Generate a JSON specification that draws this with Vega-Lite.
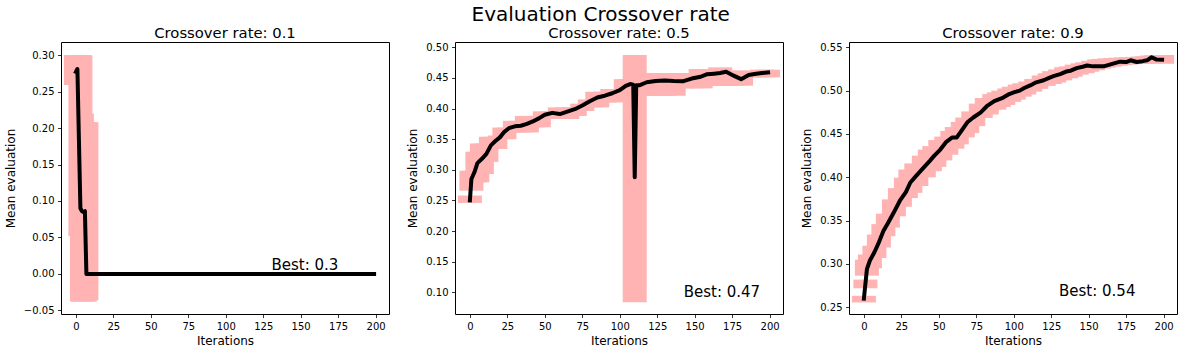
{
  "$schema": "https://vega.github.io/schema/vega-lite/v6.json",
  "padding": {"left": 3, "top": 4, "right": 5, "bottom": 5},
  "background": "white",
  "title": {"text": "Evaluation Crossover rate", "fontSize": 20, "fontWeight": "normal", "anchor": "middle", "dx": 10, "offset": 1, "color": "black"},
  "datasets": {
    "runs": [
      {"p":1,"i":0,"m":0.277,"lo":0.259,"hi":0.300},
      {"p":1,"i":1,"m":0.281,"lo":0.259,"hi":0.300},
      {"p":1,"i":2,"m":0.185,"lo":0.259,"hi":0.300},
      {"p":1,"i":3,"m":0.090,"lo":0.052,"hi":0.300},
      {"p":1,"i":4,"m":0.086,"lo":-0.038,"hi":0.220},
      {"p":1,"i":5,"m":0.085,"lo":-0.038,"hi":0.208},
      {"p":1,"i":6,"m":0.086,"lo":-0.038,"hi":0.208},
      {"p":1,"i":7,"m":0.0,"lo":-0.036,"hi":0.208},
      {"p":1,"i":8,"m":0.0},
      {"p":1,"i":199,"m":0.0},

      {"p":2,"i":0,"m":0.250,"lo":0.246,"hi":0.258},
      {"p":2,"i":1,"m":0.285,"lo":0.266,"hi":0.2985},
      {"p":2,"i":3,"m":0.296,"lo":0.2796,"hi":0.2985},
      {"p":2,"i":5,"m":0.311,"lo":0.2796,"hi":0.3296},
      {"p":2,"i":8,"m":0.318,"lo":0.2931,"hi":0.343},
      {"p":2,"i":11,"m":0.326,"lo":0.313,"hi":0.343},
      {"p":2,"i":14,"m":0.340,"lo":0.334,"hi":0.354},
      {"p":2,"i":17,"m":0.347,"lo":0.334,"hi":0.354},
      {"p":2,"i":20,"m":0.353,"lo":0.350,"hi":0.356},
      {"p":2,"i":23,"m":0.362,"lo":0.350,"hi":0.369},
      {"p":2,"i":26,"m":0.368,"lo":0.361,"hi":0.369},
      {"p":2,"i":30,"m":0.371,"lo":0.361,"hi":0.380},
      {"p":2,"i":34,"m":0.372,"lo":0.361,"hi":0.380},
      {"p":2,"i":38,"m":0.375,"lo":0.361,"hi":0.388},
      {"p":2,"i":42,"m":0.379,"lo":0.3694,"hi":0.388},
      {"p":2,"i":46,"m":0.384,"lo":0.3694,"hi":0.388},
      {"p":2,"i":50,"m":0.390,"lo":0.383,"hi":0.3955},
      {"p":2,"i":55,"m":0.393,"lo":0.383,"hi":0.3955},
      {"p":2,"i":60,"m":0.391,"lo":0.383,"hi":0.402},
      {"p":2,"i":65,"m":0.395,"lo":0.383,"hi":0.402},
      {"p":2,"i":70,"m":0.399,"lo":0.388,"hi":0.402},
      {"p":2,"i":75,"m":0.405,"lo":0.396,"hi":0.408},
      {"p":2,"i":80,"m":0.412,"lo":0.402,"hi":0.415},
      {"p":2,"i":85,"m":0.418,"lo":0.402,"hi":0.4275},
      {"p":2,"i":90,"m":0.421,"lo":0.410,"hi":0.4275},
      {"p":2,"i":95,"m":0.425,"lo":0.410,"hi":0.432},
      {"p":2,"i":100,"m":0.430,"lo":0.421,"hi":0.432},
      {"p":2,"i":104,"m":0.437,"lo":0.421,"hi":0.448},
      {"p":2,"i":107,"m":0.440,"lo":0.421,"hi":0.448},
      {"p":2,"i":109,"m":0.439,"lo":0.421,"hi":0.448},
      {"p":2,"i":110,"m":0.288,"lo":0.0837,"hi":0.4874},
      {"p":2,"i":111,"m":0.438,"lo":0.421,"hi":0.458},
      {"p":2,"i":113,"m":0.438,"lo":0.421,"hi":0.458},
      {"p":2,"i":118,"m":0.443,"lo":0.421,"hi":0.458},
      {"p":2,"i":124,"m":0.445,"lo":0.421,"hi":0.458},
      {"p":2,"i":130,"m":0.446,"lo":0.421,"hi":0.458},
      {"p":2,"i":136,"m":0.445,"lo":0.421,"hi":0.458},
      {"p":2,"i":142,"m":0.4445,"lo":0.433,"hi":0.458},
      {"p":2,"i":148,"m":0.449,"lo":0.433,"hi":0.458},
      {"p":2,"i":154,"m":0.452,"lo":0.433,"hi":0.4646},
      {"p":2,"i":158,"m":0.456,"lo":0.437,"hi":0.4646},
      {"p":2,"i":163,"m":0.457,"lo":0.437,"hi":0.4646},
      {"p":2,"i":167,"m":0.458,"lo":0.4373,"hi":0.4673},
      {"p":2,"i":171,"m":0.460,"lo":0.4373,"hi":0.4618},
      {"p":2,"i":176,"m":0.4537,"lo":0.4373,"hi":0.4618},
      {"p":2,"i":181,"m":0.448,"lo":0.4373,"hi":0.4618},
      {"p":2,"i":186,"m":0.4548,"lo":0.451,"hi":0.4618},
      {"p":2,"i":191,"m":0.457,"lo":0.451,"hi":0.4618},
      {"p":2,"i":195,"m":0.458,"lo":0.451,"hi":0.4635},
      {"p":2,"i":199,"m":0.459,"lo":0.451,"hi":0.4635},

      {"p":3,"i":0,"m":0.260,"lo":0.2556,"hi":0.2633},
      {"p":3,"i":1,"m":0.277,"lo":0.272,"hi":0.282},
      {"p":3,"i":2,"m":0.294,"lo":0.2865,"hi":0.305},
      {"p":3,"i":4,"m":0.304,"lo":0.295,"hi":0.311},
      {"p":3,"i":7,"m":0.3135,"lo":0.307,"hi":0.321},
      {"p":3,"i":10,"m":0.325,"lo":0.319,"hi":0.334},
      {"p":3,"i":13,"m":0.338,"lo":0.332,"hi":0.346},
      {"p":3,"i":16,"m":0.347,"lo":0.342,"hi":0.358},
      {"p":3,"i":20,"m":0.3596,"lo":0.355,"hi":0.3745},
      {"p":3,"i":24,"m":0.373,"lo":0.366,"hi":0.3875},
      {"p":3,"i":28,"m":0.383,"lo":0.376,"hi":0.3995},
      {"p":3,"i":31,"m":0.394,"lo":0.382,"hi":0.409},
      {"p":3,"i":35,"m":0.402,"lo":0.390,"hi":0.416},
      {"p":3,"i":40,"m":0.4115,"lo":0.400,"hi":0.425},
      {"p":3,"i":44,"m":0.419,"lo":0.407,"hi":0.432},
      {"p":3,"i":47,"m":0.425,"lo":0.412,"hi":0.436},
      {"p":3,"i":51,"m":0.432,"lo":0.4195,"hi":0.443},
      {"p":3,"i":55,"m":0.441,"lo":0.426,"hi":0.447},
      {"p":3,"i":59,"m":0.446,"lo":0.433,"hi":0.4535},
      {"p":3,"i":62,"m":0.446,"lo":0.438,"hi":0.458},
      {"p":3,"i":66,"m":0.456,"lo":0.446,"hi":0.464},
      {"p":3,"i":69,"m":0.4635,"lo":0.451,"hi":0.469},
      {"p":3,"i":73,"m":0.469,"lo":0.459,"hi":0.476},
      {"p":3,"i":78,"m":0.475,"lo":0.4685,"hi":0.485},
      {"p":3,"i":82,"m":0.482,"lo":0.4725,"hi":0.4915},
      {"p":3,"i":87,"m":0.488,"lo":0.478,"hi":0.496},
      {"p":3,"i":90,"m":0.490,"lo":0.481,"hi":0.498},
      {"p":3,"i":93,"m":0.492,"lo":0.4835,"hi":0.500},
      {"p":3,"i":97,"m":0.496,"lo":0.487,"hi":0.5025},
      {"p":3,"i":100,"m":0.498,"lo":0.4896,"hi":0.5045},
      {"p":3,"i":104,"m":0.500,"lo":0.493,"hi":0.507},
      {"p":3,"i":107,"m":0.503,"lo":0.4955,"hi":0.5085},
      {"p":3,"i":111,"m":0.506,"lo":0.4988,"hi":0.5105},
      {"p":3,"i":115,"m":0.5096,"lo":0.502,"hi":0.5135},
      {"p":3,"i":120,"m":0.512,"lo":0.5055,"hi":0.5175},
      {"p":3,"i":124,"m":0.515,"lo":0.5076,"hi":0.520},
      {"p":3,"i":127,"m":0.517,"lo":0.5093,"hi":0.5225},
      {"p":3,"i":131,"m":0.519,"lo":0.5118,"hi":0.5245},
      {"p":3,"i":135,"m":0.522,"lo":0.5142,"hi":0.527},
      {"p":3,"i":138,"m":0.523,"lo":0.516,"hi":0.528},
      {"p":3,"i":142,"m":0.526,"lo":0.5185,"hi":0.530},
      {"p":3,"i":146,"m":0.5275,"lo":0.520,"hi":0.5315},
      {"p":3,"i":149,"m":0.529,"lo":0.5218,"hi":0.5327},
      {"p":3,"i":153,"m":0.528,"lo":0.5235,"hi":0.5345},
      {"p":3,"i":157,"m":0.528,"lo":0.5253,"hi":0.536},
      {"p":3,"i":160,"m":0.528,"lo":0.5265,"hi":0.5366},
      {"p":3,"i":164,"m":0.530,"lo":0.5276,"hi":0.5372},
      {"p":3,"i":168,"m":0.532,"lo":0.5288,"hi":0.5377},
      {"p":3,"i":171,"m":0.5334,"lo":0.5295,"hi":0.538},
      {"p":3,"i":175,"m":0.533,"lo":0.5301,"hi":0.5383},
      {"p":3,"i":178,"m":0.535,"lo":0.5306,"hi":0.5386},
      {"p":3,"i":182,"m":0.533,"lo":0.5309,"hi":0.5389},
      {"p":3,"i":186,"m":0.534,"lo":0.5312,"hi":0.5393},
      {"p":3,"i":189,"m":0.535,"lo":0.5314,"hi":0.5396},
      {"p":3,"i":192,"m":0.5385,"lo":0.5316,"hi":0.5405},
      {"p":3,"i":195,"m":0.536,"lo":0.5318,"hi":0.5408},
      {"p":3,"i":199,"m":0.5357,"lo":0.531,"hi":0.5411}
    ],
    "best": [
      {"p":1,"x":130.5,"y":0.0057,"label":"Best: 0.3"},
      {"p":2,"x":142.7,"y":0.093,"label":"Best: 0.47"},
      {"p":3,"x":130.2,"y":0.263,"label":"Best: 0.54"}
    ]
  },
  "hconcat": [
    {
      "width": 328, "height": 272,
      "title": "Crossover rate: 0.1",
      "layer": [
        {"data": {"name": "runs"}, "transform": [{"filter": "datum.p == 1 && isValid(datum.hi)"}],
         "mark": {"type": "rule", "strokeWidth": 24, "strokeCap": "butt", "color": "#ffb3b3", "clip": true},
         "encoding": {
           "x": {"field": "i", "type": "quantitative", "title": "Iterations", "scale": {"domain": [-9.95, 208.95], "nice": false, "zero": false}, "axis": {"values": [0,25,50,75,100,125,150,175,200], "format": "d", "tickCount": 20}},
           "y": {"field": "lo", "type": "quantitative", "title": "Mean evaluation", "scale": {"domain": [-0.055, 0.318], "nice": false, "zero": false}, "axis": {"values": [-0.05,0,0.05,0.1,0.15,0.2,0.25,0.3], "format": ".2f", "tickCount": 20}},
           "y2": {"field": "hi"}
         }},
        {"data": {"name": "runs"}, "transform": [{"filter": "datum.p == 1"}],
         "mark": {"type": "line", "color": "black", "strokeWidth": 4, "strokeCap": "square", "strokeJoin": "round", "clip": true},
         "encoding": {
           "x": {"field": "i", "type": "quantitative", "title": "Iterations"},
           "y": {"field": "m", "type": "quantitative", "title": "Mean evaluation"}
         }},
        {"data": {"name": "best"}, "transform": [{"filter": "datum.p == 1"}],
         "mark": {"type": "text", "align": "left", "baseline": "alphabetic", "fontSize": 15, "color": "black"},
         "encoding": {
           "x": {"field": "x", "type": "quantitative", "title": "Iterations"},
           "y": {"field": "y", "type": "quantitative", "title": "Mean evaluation"},
           "text": {"field": "label"}
         }}
      ]
    },
    {
      "width": 328, "height": 272,
      "title": "Crossover rate: 0.5",
      "layer": [
        {"data": {"name": "runs"}, "transform": [{"filter": "datum.p == 2 && isValid(datum.hi)"}],
         "mark": {"type": "rule", "strokeWidth": 24, "strokeCap": "butt", "color": "#ffb3b3", "clip": true},
         "encoding": {
           "x": {"field": "i", "type": "quantitative", "title": "Iterations", "scale": {"domain": [-9.95, 208.95], "nice": false, "zero": false}, "axis": {"values": [0,25,50,75,100,125,150,175,200], "format": "d", "tickCount": 20}},
           "y": {"field": "lo", "type": "quantitative", "title": "Mean evaluation", "scale": {"domain": [0.0646, 0.5087], "nice": false, "zero": false}, "axis": {"values": [0.1,0.15,0.2,0.25,0.3,0.35,0.4,0.45,0.5], "format": ".2f", "tickCount": 20}},
           "y2": {"field": "hi"}
         }},
        {"data": {"name": "runs"}, "transform": [{"filter": "datum.p == 2"}],
         "mark": {"type": "line", "color": "black", "strokeWidth": 4, "strokeCap": "square", "strokeJoin": "round", "clip": true},
         "encoding": {
           "x": {"field": "i", "type": "quantitative", "title": "Iterations"},
           "y": {"field": "m", "type": "quantitative", "title": "Mean evaluation"}
         }},
        {"data": {"name": "best"}, "transform": [{"filter": "datum.p == 2"}],
         "mark": {"type": "text", "align": "left", "baseline": "alphabetic", "fontSize": 15, "color": "black"},
         "encoding": {
           "x": {"field": "x", "type": "quantitative", "title": "Iterations"},
           "y": {"field": "y", "type": "quantitative", "title": "Mean evaluation"},
           "text": {"field": "label"}
         }}
      ]
    },
    {
      "width": 328, "height": 272,
      "title": "Crossover rate: 0.9",
      "layer": [
        {"data": {"name": "runs"}, "transform": [{"filter": "datum.p == 3 && isValid(datum.hi)"}],
         "mark": {"type": "rule", "strokeWidth": 24, "strokeCap": "butt", "color": "#ffb3b3", "clip": true},
         "encoding": {
           "x": {"field": "i", "type": "quantitative", "title": "Iterations", "scale": {"domain": [-9.95, 208.95], "nice": false, "zero": false}, "axis": {"values": [0,25,50,75,100,125,150,175,200], "format": "d", "tickCount": 20}},
           "y": {"field": "lo", "type": "quantitative", "title": "Mean evaluation", "scale": {"domain": [0.2423, 0.5561], "nice": false, "zero": false}, "axis": {"values": [0.25,0.3,0.35,0.4,0.45,0.5,0.55], "format": ".2f", "tickCount": 20}},
           "y2": {"field": "hi"}
         }},
        {"data": {"name": "runs"}, "transform": [{"filter": "datum.p == 3"}],
         "mark": {"type": "line", "color": "black", "strokeWidth": 4, "strokeCap": "square", "strokeJoin": "round", "clip": true},
         "encoding": {
           "x": {"field": "i", "type": "quantitative", "title": "Iterations"},
           "y": {"field": "m", "type": "quantitative", "title": "Mean evaluation"}
         }},
        {"data": {"name": "best"}, "transform": [{"filter": "datum.p == 3"}],
         "mark": {"type": "text", "align": "left", "baseline": "alphabetic", "fontSize": 15, "color": "black"},
         "encoding": {
           "x": {"field": "x", "type": "quantitative", "title": "Iterations"},
           "y": {"field": "y", "type": "quantitative", "title": "Mean evaluation"},
           "text": {"field": "label"}
         }}
      ]
    }
  ],
  "spacing": 66,
  "bounds": "flush",
  "config": {
    "font": "DejaVu Sans",
    "view": {"stroke": "black", "strokeWidth": 1},
    "axis": {
      "grid": false, "domain": false,
      "tickColor": "black", "tickSize": 3.5, "tickWidth": 0.8,
      "labelColor": "black", "labelFontSize": 10, "labelPadding": 3.5, "labelFont": "DejaVu Sans",
      "labelOverlap": false, "labelFlush": false, "labelBound": false,
      "titleColor": "black", "titleFontSize": 12, "titleFontWeight": "normal", "titleFont": "DejaVu Sans"
    },
    "axisY": {"titlePadding": 6},
    "axisX": {"titlePadding": 4},
    "title": {"fontSize": 14.8, "fontWeight": "normal", "color": "black", "font": "DejaVu Sans", "offset": 1}
  }
}
